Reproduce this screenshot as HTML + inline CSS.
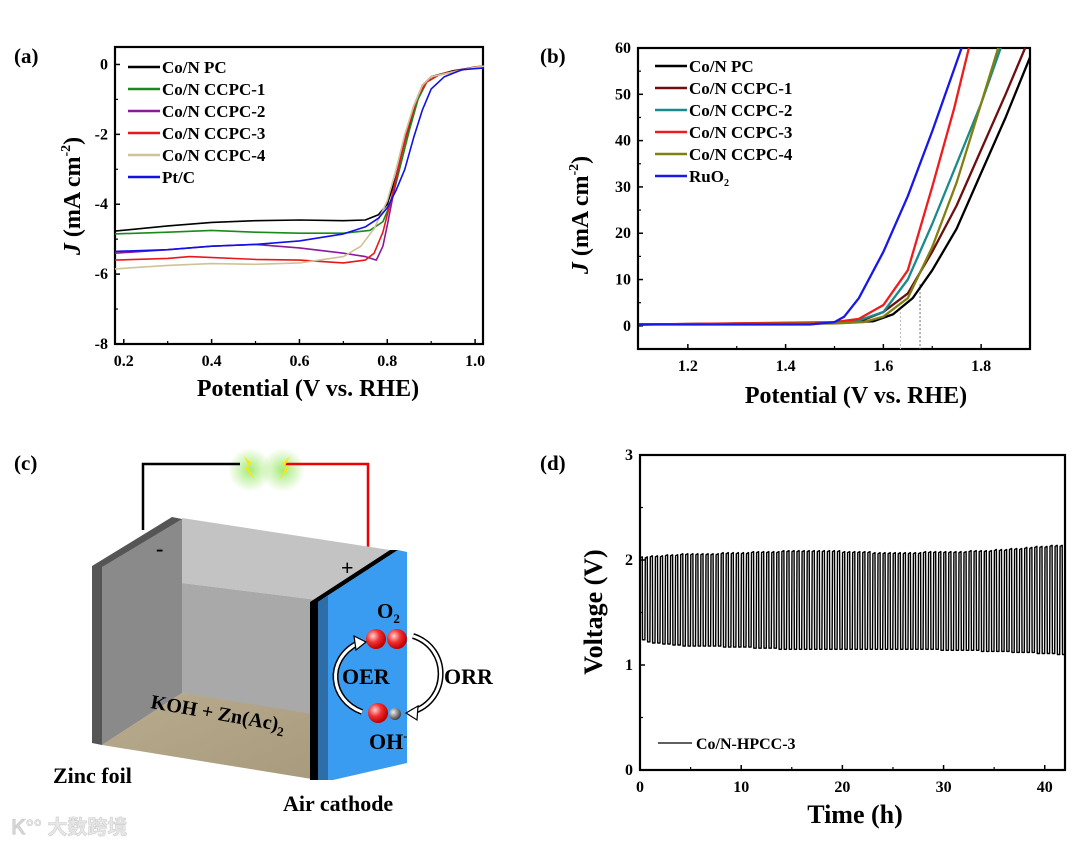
<!DOCTYPE html>
<html><head><meta charset="utf-8">
<style>
html,body{margin:0;padding:0;background:#fff;}
svg{display:block;font-family:"Liberation Serif",serif;font-weight:bold;}
</style></head>
<body>
<svg id="fig" width="1080" height="844" viewBox="0 0 1080 844">
<defs>
<radialGradient id="ball" cx="35%" cy="35%" r="65%"><stop offset="0" stop-color="#ffd0d0"/><stop offset="0.5" stop-color="#f03030"/><stop offset="1" stop-color="#c00000"/></radialGradient>
<radialGradient id="ballg" cx="35%" cy="35%" r="65%"><stop offset="0" stop-color="#eee"/><stop offset="1" stop-color="#444"/></radialGradient>
<radialGradient id="glow"><stop offset="0" stop-color="#9be86a" stop-opacity="0.9"/><stop offset="1" stop-color="#9be86a" stop-opacity="0"/></radialGradient>
<linearGradient id="floor" x1="0" y1="0" x2="1" y2="1"><stop offset="0" stop-color="#b9ab8e"/><stop offset="1" stop-color="#a89a7c"/></linearGradient>
</defs>
<text x="14" y="63" font-size="21">(a)</text>
<text x="540" y="63" font-size="21">(b)</text>
<text x="14" y="470" font-size="21">(c)</text>
<text x="540" y="470" font-size="21">(d)</text>

<g>
  <ellipse cx="250" cy="470" rx="22" ry="22" fill="url(#glow)"/>
  <ellipse cx="283" cy="470" rx="22" ry="22" fill="url(#glow)"/>
  <polyline points="143,530 143,464 240,464" fill="none" stroke="#000" stroke-width="2.5"/>
  <polyline points="285,464 368,464 368,573" fill="none" stroke="#e00" stroke-width="2.5"/>
  <polygon points="244,456 252,464 247,466 255,480 245,468 249,466" fill="#ffe800"/>
  <polygon points="290,456 282,464 287,466 279,480 289,468 285,466" fill="#ffe800"/>
  <polygon points="182,518 390,550 318,600 182,583" fill="#c3c3c3"/>
  <polygon points="182,583 318,600 318,720 182,693" fill="#a9a9a9"/>
  <polygon points="102,745 182,693 318,715 318,780" fill="url(#floor)"/>
  <polygon points="102,567 172,519 182,519 182,693 102,745" fill="#8a8a8a"/>
  <polygon points="92,566 172,517 182,519 102,567 102,745 92,743" fill="#555"/>
  <polygon points="310,602 390,550 398,550 318,602 318,780 310,780" fill="#000"/>
  <polygon points="318,602 398,550 407,552 407,763 333,780 318,780" fill="#3a9cf0"/>
  <polygon points="318,602 328,596 328,780 318,780" fill="#2d6ea8"/>
  <text x="156" y="556" font-size="22">-</text>
  <text x="341" y="575" font-size="22">+</text>
  <text x="377" y="618" font-size="21">O<tspan font-size="13" dy="5">2</tspan></text>
  <circle cx="376" cy="639" r="10" fill="url(#ball)"/>
  <circle cx="397" cy="639" r="10" fill="url(#ball)"/>
  <circle cx="378" cy="713" r="10" fill="url(#ball)"/>
  <circle cx="395" cy="714" r="6" fill="url(#ballg)"/>
  <path d="M362,712 C330,700 325,660 358,643" fill="none" stroke="#000" stroke-width="6"/>
  <path d="M362,712 C330,700 325,660 358,643" fill="none" stroke="#fff" stroke-width="3"/>
  <polygon points="354,636 366,642 356,650" fill="#fff" stroke="#000" stroke-width="1.2"/>
  <path d="M413,636 C450,648 450,700 412,712" fill="none" stroke="#000" stroke-width="6"/>
  <path d="M413,636 C450,648 450,700 412,712" fill="none" stroke="#fff" stroke-width="3"/>
  <polygon points="418,706 406,713 417,720" fill="#fff" stroke="#000" stroke-width="1.2"/>
  <text x="342" y="684" font-size="22">OER</text>
  <text x="444" y="684" font-size="22">ORR</text>
  <text x="369" y="749" font-size="22">OH<tspan font-size="12" dy="-9">-</tspan></text>
  <text x="150" y="708" font-size="20" transform="rotate(10 150 708)">KOH + Zn(Ac)<tspan font-size="13" dy="5">2</tspan></text>
  <text x="53" y="783" font-size="22">Zinc foil</text>
  <text x="283" y="811" font-size="22">Air cathode</text>
  <text x="12" y="834" font-size="20" fill="#e8e8e8" stroke="#cfcfcf" stroke-width="0.6" font-family="'Liberation Sans','Noto Sans CJK SC',sans-serif">Ꮶ°° 大数跨境</text>
</g>
<g id="charts"></g>
</svg>
<script>
// ---------- Panel (a) ORR data ----------
const aSeriesNames = ["Co/N PC","Co/N CCPC-1","Co/N CCPC-2","Co/N CCPC-3","Co/N CCPC-4","Pt/C"];
const aColors = ["#000000","#1a8a1a","#8a1a9a","#e81818","#cfc296","#1010e8"];
const aPC = [[0.18,-4.77],[0.3,-4.62],[0.4,-4.52],[0.5,-4.47],[0.6,-4.45],[0.7,-4.47],[0.75,-4.45],[0.78,-4.3],[0.8,-4.0],[0.82,-3.2],[0.84,-2.2],[0.86,-1.3],[0.88,-0.6],[0.9,-0.35],[0.95,-0.18],[1.0,-0.08],[1.02,-0.05]];
const aC1 = [[0.18,-4.85],[0.3,-4.8],[0.4,-4.75],[0.5,-4.8],[0.6,-4.83],[0.7,-4.83],[0.76,-4.75],[0.79,-4.5],[0.81,-3.9],[0.83,-2.9],[0.85,-1.9],[0.87,-1.0],[0.89,-0.5],[0.92,-0.28],[1.0,-0.07],[1.02,-0.05]];
const aC2 = [[0.18,-5.4],[0.3,-5.3],[0.4,-5.2],[0.5,-5.15],[0.6,-5.25],[0.7,-5.4],[0.75,-5.5],[0.775,-5.6],[0.79,-5.2],[0.8,-4.6],[0.82,-3.3],[0.84,-2.1],[0.86,-1.2],[0.88,-0.6],[0.9,-0.35],[1.0,-0.08],[1.02,-0.05]];
const aC3 = [[0.18,-5.6],[0.3,-5.55],[0.35,-5.5],[0.5,-5.58],[0.6,-5.6],[0.7,-5.68],[0.75,-5.6],[0.77,-5.4],[0.79,-4.8],[0.81,-3.8],[0.83,-2.7],[0.85,-1.7],[0.87,-0.9],[0.89,-0.5],[0.92,-0.28],[1.0,-0.07],[1.02,-0.05]];
const aC4 = [[0.18,-5.85],[0.3,-5.75],[0.4,-5.7],[0.5,-5.72],[0.6,-5.68],[0.7,-5.5],[0.74,-5.2],[0.77,-4.7],[0.8,-3.9],[0.82,-3.0],[0.84,-2.0],[0.86,-1.2],[0.88,-0.6],[0.9,-0.35],[1.0,-0.08],[1.02,-0.05]];
const aPt = [[0.18,-5.35],[0.3,-5.3],[0.4,-5.2],[0.5,-5.15],[0.6,-5.05],[0.7,-4.85],[0.75,-4.65],[0.78,-4.4],[0.8,-4.1],[0.82,-3.6],[0.84,-3.0],[0.86,-2.1],[0.88,-1.3],[0.9,-0.7],[0.93,-0.35],[0.97,-0.15],[1.02,-0.1]];
const aXTicks = [0.2,0.4,0.6,0.8,1.0];
const aXTickLabels = ["0.2","0.4","0.6","0.8","1.0"];
const aYTicks = [0,-2,-4,-6,-8];
const aYTickLabels = ["0","-2","-4","-6","-8"];

// ---------- Panel (b) OER data ----------
const bSeriesNames = ["Co/N PC","Co/N CCPC-1","Co/N CCPC-2","Co/N CCPC-3","Co/N CCPC-4","RuO2"];
const bColors = ["#000000","#6e0f0f","#1a8a8a","#ee1c1c","#808012","#1818e8"];
const bPC = [[1.1,0.3],[1.5,0.6],[1.58,1],[1.62,2.5],[1.66,6],[1.7,12],[1.75,21],[1.8,33],[1.85,45],[1.9,58]];
const bC1 = [[1.1,0.3],[1.5,0.7],[1.56,1.3],[1.6,3],[1.65,7],[1.7,16],[1.75,26],[1.8,38],[1.85,50],[1.89,60]];
const bC2 = [[1.1,0.3],[1.5,0.7],[1.55,1.2],[1.6,3],[1.65,10],[1.7,22],[1.75,35],[1.8,48],[1.84,60]];
const bC3 = [[1.1,0.3],[1.5,0.8],[1.55,1.5],[1.6,4.5],[1.65,12],[1.7,30],[1.745,47],[1.775,60]];
const bC4 = [[1.1,0.3],[1.5,0.5],[1.56,0.8],[1.6,2],[1.65,6],[1.7,17],[1.75,31],[1.8,48],[1.835,60]];
const bRu = [[1.1,0.3],[1.45,0.3],[1.5,0.8],[1.52,2],[1.55,6],[1.6,16],[1.65,28],[1.7,42],[1.76,60]];
const bXTicks = [1.2,1.4,1.6,1.8];
const bXTickLabels = ["1.2","1.4","1.6","1.8"];
const bYTicks = [0,10,20,30,40,50,60];
const bYTickLabels = ["0","10","20","30","40","50","60"];
const bMarkers = [1.635,1.675];

// ---------- Panel (d) cycling data ----------
const dCycleHours = 0.5;
const dUpper = [2.02,2.02,2.03,2.03,2.03,2.04,2.04,2.04,2.05,2.05,
2.05,2.05,2.05,2.05,2.05,2.05,2.06,2.06,2.06,2.06,
2.06,2.06,2.07,2.07,2.07,2.07,2.07,2.07,2.08,2.08,
2.08,2.08,2.08,2.08,2.08,2.08,2.08,2.08,2.08,2.08,
2.07,2.07,2.07,2.07,2.07,2.07,2.06,2.06,2.06,2.06,
2.06,2.06,2.06,2.06,2.06,2.06,2.07,2.07,2.07,2.07,
2.07,2.07,2.07,2.07,2.07,2.08,2.08,2.08,2.08,2.08,
2.09,2.09,2.09,2.10,2.10,2.10,2.11,2.11,2.12,2.12,
2.12,2.13,2.13,2.13];
const dLower = [1.24,1.22,1.21,1.21,1.20,1.20,1.19,1.19,1.18,1.18,
1.18,1.18,1.18,1.18,1.18,1.18,1.17,1.17,1.17,1.17,
1.17,1.17,1.16,1.16,1.16,1.16,1.16,1.15,1.15,1.15,
1.15,1.15,1.15,1.15,1.15,1.15,1.15,1.15,1.15,1.15,
1.15,1.15,1.15,1.15,1.15,1.15,1.15,1.15,1.15,1.15,
1.15,1.15,1.15,1.15,1.15,1.15,1.15,1.15,1.15,1.14,
1.14,1.14,1.14,1.14,1.14,1.14,1.14,1.13,1.13,1.13,
1.13,1.13,1.13,1.12,1.12,1.12,1.12,1.12,1.11,1.11,
1.11,1.11,1.10,1.10];
const dStartV = 1.3;
const dXTicks = [0,10,20,30,40];
const dXTickLabels = ["0","10","20","30","40"];
const dYTicks = [0,1,2,3];
const dYTickLabels = ["0","1","2","3"];

const NS = "http://www.w3.org/2000/svg";
const root = document.getElementById('charts');
function mk(tag, attrs, parent){const e=document.createElementNS(NS,tag);for(const k in attrs)e.setAttribute(k,attrs[k]);(parent||root).appendChild(e);return e;}
function scale(d0,d1,r0,r1){return v=>r0+(v-d0)/(d1-d0)*(r1-r0);}
const TICK_FS = 16;

function frame(p){
  const g = mk('g',{});
  
  
  const r = mk('rect',{x:p.L,y:p.T,width:p.R-p.L,height:p.B-p.T,fill:'none',stroke:'#000','stroke-width':2.2},g);
  
  
  const xs=p.xt[1]-p.xt[0];
  p.xt.forEach((v,i)=>{
    const x=p.sx(v);
    mk('line',{x1:x,x2:x,y1:p.B,y2:p.B-5,stroke:'#000','stroke-width':1.5},g);
    const t=mk('text',{x:x,y:p.B+22,'font-size':TICK_FS,'text-anchor':'middle'},g);
    t.textContent=p.xl[i];
    
    
    const xm=p.sx(v+xs/2); if(xm<p.R-2) mk('line',{x1:xm,x2:xm,y1:p.B,y2:p.B-3,stroke:'#000','stroke-width':1.2},g);
  });
  const xm0=p.sx(p.xt[0]-xs/2); if(xm0>p.L+2) mk('line',{x1:xm0,x2:xm0,y1:p.B,y2:p.B-3,stroke:'#000','stroke-width':1.2},g);
  p.yt.forEach((v,i)=>{
    const y=p.sy(v);
    mk('line',{x1:p.L,x2:p.L+5,y1:y,y2:y,stroke:'#000','stroke-width':1.5},g);
    const t=mk('text',{x:p.L-7,y:y+5,'font-size':TICK_FS,'text-anchor':'end'},g);
    t.textContent=p.yl[i];
    
    
    if(i<p.yt.length-1){const ym=p.sy(v+(p.yt[1]-p.yt[0])/2); mk('line',{x1:p.L,x2:p.L+3,y1:ym,y2:ym,stroke:'#000','stroke-width':1.2},g);}
  });
  return g;
}
function line(pts,sx,sy,color,name,w){
  const d=pts.map((q,i)=>(i?'L':'M')+sx(q[0]).toFixed(1)+','+sy(q[1]).toFixed(1)).join('');
  const e=mk('path',{d:d,fill:'none',stroke:color,'stroke-width':w||2,'stroke-linejoin':'round'});
  
  
  return e;
}
function legend(names,colors,x,y,dy,name){
  names.forEach((n,i)=>{
    const yy=y+i*dy;
    const l=mk('line',{x1:x,x2:x+32,y1:yy,y2:yy,stroke:colors[i],'stroke-width':2.5});
    
    
    const t=mk('text',{x:x+34,y:yy+6,'font-size':17});
    if(n==='RuO2'){t.innerHTML='RuO<tspan font-size="10" dy="4">2</tspan>';} else t.textContent=n;
    
    
  });
}
function axTitle(txt,x,y,rot,name,html){
  const t=mk('text',{x:x,y:y,'font-size':24,'text-anchor':'middle'});
  if(rot) t.setAttribute('transform','rotate(-90 '+x+' '+y+')');
  if(html) t.innerHTML=html; else t.textContent=txt;
  
  
  return t;
}

// Panel a
{
  const p={name:'panel-a',L:115,T:47,R:483,B:344};
  p.sx=scale(0.18,1.018,p.L,p.R); p.sy=scale(0.5,-8,p.T,p.B);
  p.xt=aXTicks;p.xl=aXTickLabels;p.yt=aYTicks;p.yl=aYTickLabels;
  frame(p);
  [aPC,aC1,aC2,aC3,aC4,aPt].forEach((s,i)=>line(s,p.sx,p.sy,aColors[i],'orr-curve-'+i,1.6));
  legend(aSeriesNames,aColors,128,67,22,'panel-a-legend');
  axTitle('Potential (V vs. RHE)',308,396,false,'panel-a-x-axis-title');
  axTitle('',80,196,true,'panel-a-y-axis-title','<tspan font-style="italic">J</tspan> (mA cm<tspan font-size="14" dy="-10">-2</tspan><tspan dy="10">)</tspan>');
}
// Panel b
{
  const p={name:'panel-b',L:638,T:48,R:1030,B:349};
  p.sx=scale(1.098,1.9,p.L,p.R); p.sy=scale(60,-5,p.T,p.B);
  p.xt=bXTicks;p.xl=bXTickLabels;p.yt=bYTicks;p.yl=bYTickLabels;
  frame(p);
  bMarkers.forEach((m,i)=>{
    const e=mk('line',{x1:p.sx(m),x2:p.sx(m),y1:p.sy(i?9:3),y2:p.B,stroke:i?'#666':'#bbb','stroke-width':1,'stroke-dasharray':'2,2'});
    
    
  });
  [bPC,bC1,bC2,bC3,bC4,bRu].forEach((s,i)=>line(s,p.sx,p.sy,bColors[i],'oer-curve-'+i,2.3));
  legend(bSeriesNames,bColors,655,66,22,'panel-b-legend');
  axTitle('Potential (V vs. RHE)',856,403,false,'panel-b-x-axis-title');
  axTitle('',588,215,true,'panel-b-y-axis-title','<tspan font-style="italic">J</tspan> (mA  cm<tspan font-size="14" dy="-10">-2</tspan><tspan dy="10">)</tspan>');
}
// Panel d
{
  const p={name:'panel-d',L:640,T:455,R:1065,B:770};
  p.sx=scale(0,42,p.L,p.R); p.sy=scale(3,0,p.T,p.B);
  p.xt=dXTicks;p.xl=dXTickLabels;p.yt=dYTicks;p.yl=dYTickLabels;
  frame(p);
  const pts=[[0,dStartV]];
  dUpper.forEach((u,i)=>{
    const t0=i*dCycleHours;
    pts.push([t0+0.02,u]);pts.push([t0+dCycleHours*0.45,u+0.01]);
    pts.push([t0+dCycleHours*0.5,dLower[i]]);pts.push([t0+dCycleHours*0.96,dLower[i]]);
  });
  line(pts,p.sx,p.sy,'#000','voltage-cycling-curve',1.4);
  const l=mk('line',{x1:658,x2:692,y1:743,y2:743,stroke:'#000','stroke-width':1.3});
  
  
  const t=mk('text',{x:696,y:749,'font-size':16});
  t.textContent='Co/N-HPCC-3';
  
  
  axTitle('Time (h)',855,823,false,'panel-d-x-axis-title').setAttribute('font-size','26');
  axTitle('Voltage (V)',602,612,true,'panel-d-y-axis-title').setAttribute('font-size','26');
}
</script>
</body></html>
